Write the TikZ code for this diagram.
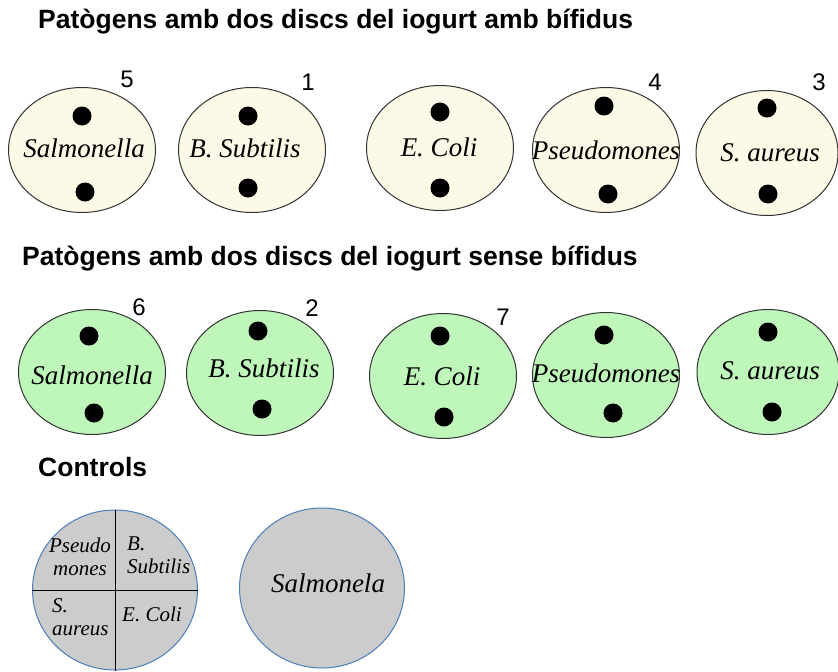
\documentclass[tikz,border=0pt]{standalone}
\usepackage{fontspec}
\setmainfont{Liberation Serif}
\setsansfont{Liberation Sans}
\usetikzlibrary{shapes.geometric}
\definecolor{cream}{RGB}{252,250,230}
\definecolor{mint}{RGB}{191,247,187}
\definecolor{agar}{RGB}{204,204,204}
\definecolor{rim}{RGB}{74,126,187}
\begin{document}
\begin{tikzpicture}[x=1pt, y=-1pt,
    title/.style = {anchor=base west, inner sep=0,
      font=\sffamily\bfseries\fontsize{26.5}{30}\selectfont},
    plate/.style = {ellipse, draw=black!80, line width=1pt,
      minimum width=147pt, minimum height=125pt, inner sep=0},
    bifid/.style = {plate, fill=cream},
    plain/.style = {plate, fill=mint},
    control/.style = {ellipse, draw=rim, line width=1pt, fill=agar,
      minimum width=165pt, minimum height=160pt, inner sep=0},
    disc/.style = {circle, fill=black, minimum size=19pt, inner sep=0},
    germ/.style = {inner sep=0, font=\itshape\fontsize{27}{30}\selectfont},
    small/.style = {inner sep=0, align=left,
      font=\itshape\fontsize{21}{23}\selectfont},
    num/.style = {inner sep=0, font=\sffamily\fontsize{24}{27}\selectfont}]
  \useasboundingbox (0,0) rectangle (838,672);

  % amb bifidus
  \node[title] (t1) at (38,28) {Patògens amb dos discs del iogurt amb bífidus};
  \node[bifid] (a1) at (82,150) {};
  \node[bifid] (a2) at (252,150) {};
  \node[bifid] (a3) at (440,148) {};
  \node[bifid] (a4) at (606,150) {};
  \node[bifid, minimum width=142pt] (a5) at (767,153) {};
  \node[disc] (a1t) at (82,116) {};  \node[disc] (a1b) at (85,192) {};
  \node[disc] (a2t) at (248,116) {}; \node[disc] (a2b) at (248,188) {};
  \node[disc] (a3t) at (440,112) {}; \node[disc] (a3b) at (440,188) {};
  \node[disc] (a4t) at (604,106) {}; \node[disc] (a4b) at (608,194) {};
  \node[disc] (a5t) at (767,108) {}; \node[disc] (a5b) at (768,194) {};
  \node[germ] (a1n) at (84,148) {Salmonella};
  \node[germ] (a2n) at (245,148) {B. Subtilis};
  \node[germ] (a3n) at (439,147) {E. Coli};
  \node[germ] (a4n) at (606,150) {Pseudomones};
  \node[germ] (a5n) at (770,153) {S. aureus};
  \node[num] (n5) at (127,79) {5};
  \node[num] (n1) at (308,82) {1};
  \node[num] (n4) at (655,82) {4};
  \node[num] (n3) at (819,82) {3};

  % sense bifidus
  \node[title] (t2) at (22,265) {Patògens amb dos discs del iogurt sense bífidus};
  \node[plain] (b1) at (92,372) {};
  \node[plain] (b2) at (260,373) {};
  \node[plain] (b3) at (443,376) {};
  \node[plain] (b4) at (606,375) {};
  \node[plain, minimum width=142pt] (b5) at (768,372) {};
  \node[disc] (b1t) at (89,336) {};  \node[disc] (b1b) at (94,413) {};
  \node[disc] (b2t) at (258,331) {}; \node[disc] (b2b) at (262,409) {};
  \node[disc] (b3t) at (440,336) {}; \node[disc] (b3b) at (444,417) {};
  \node[disc] (b4t) at (604,335) {}; \node[disc] (b4b) at (613,413) {};
  \node[disc] (b5t) at (768,332) {}; \node[disc] (b5b) at (772,412) {};
  \node[germ] (b1n) at (92,375) {Salmonella};
  \node[germ] (b2n) at (264,368) {B. Subtilis};
  \node[germ] (b3n) at (442,376) {E. Coli};
  \node[germ] (b4n) at (606,373) {Pseudomones};
  \node[germ] (b5n) at (770,371) {S. aureus};
  \node[num] (n6) at (139,307) {6};
  \node[num] (n2) at (312,308) {2};
  \node[num] (n7) at (503,317) {7};

  % controls
  \node[title] (t3) at (38,476) {Controls};
  \node[control] (c1) at (115,590) {};
  \draw[line width=1pt] (c1.north) -- (c1.south);
  \draw[line width=1pt] (c1.west) -- (c1.east);
  \node[small, align=center] (q1) at (80,557) {Pseudo\\mones};
  \node[small, anchor=west] (q2) at (127,555) {B.\\Subtilis};
  \node[small, anchor=west] (q3) at (52,617) {S.\\aureus};
  \node[small, anchor=west] (q4) at (122,614) {E. Coli};
  \node[control] (c2) at (322,588) {};
  \node[germ] (c2n) at (328,583) {Salmonela};
\end{tikzpicture}
\end{document}
